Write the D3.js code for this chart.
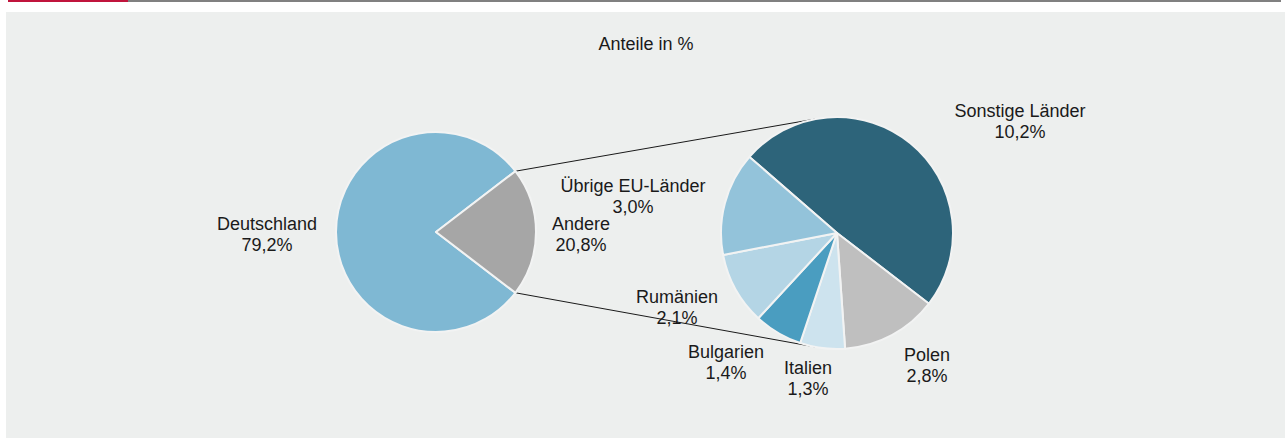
<!DOCTYPE html>
<html>
<head>
<meta charset="utf-8">
<script src="https://cdn.jsdelivr.net/npm/d3@7"></script>
<style>
  body { margin: 0; background: #fff; }
  svg text { font-family: "Liberation Sans", Arial, sans-serif; font-size: 18px; fill: #1a1a1a; }
</style>
</head>
<body>
<div id="chart"></div>
<script>
// main pie
const mainLabels = ["Deutschland", "Andere"];
const mainValues = [79.2, 20.8];
const mainColors = ["#7fb8d3", "#a6a6a6"];

// breakdown of "Andere"
const detailLabels = ["Sonstige Länder", "Polen", "Italien", "Bulgarien", "Rumänien", "Übrige EU-Länder"];
const detailValues = [10.2, 2.8, 1.3, 1.4, 2.1, 3.0];
const detailColors = ["#2d647a", "#bfbfbf", "#cde3ee", "#4a9dc0", "#b4d5e5", "#93c3da"];

const title = "Anteile in %";

const width = 1285, height = 439;
const fmt = v => d3.format(".1f")(v).replace(".", ",") + "%";

const svg = d3.select("#chart").append("svg")
    .attr("width", width)
    .attr("height", height);

// top rule + panel
svg.append("rect").attr("x", 8).attr("y", 0).attr("width", 1273).attr("height", 2).attr("fill", "#808080");
svg.append("rect").attr("x", 8).attr("y", 0).attr("width", 120).attr("height", 2).attr("fill", "#c0143c");
svg.append("rect").attr("x", 6).attr("y", 12).attr("width", width - 6).attr("height", 426).attr("fill", "#edefee");

svg.append("text")
    .attr("x", 646).attr("y", 50)
    .attr("text-anchor", "middle")
    .text(title);

const c1 = {x: 436, y: 232, r: 100};
const c2 = {x: 837, y: 233, r: 116};

// main pie, "Andere" centred on the right
const andereShare = mainValues[1] / d3.sum(mainValues);
const start1 = Math.PI / 2 + andereShare * Math.PI;
const pie1 = d3.pie().sort(null).startAngle(start1).endAngle(start1 + 2 * Math.PI);
const arcs1 = pie1(mainValues);
const arc1 = d3.arc().innerRadius(0).outerRadius(c1.r);

const pie2 = d3.pie().sort(null)
    .startAngle(-49 * Math.PI / 180)
    .endAngle(-49 * Math.PI / 180 + 2 * Math.PI);
const arcs2 = pie2(detailValues);
const arc2 = d3.arc().innerRadius(0).outerRadius(c2.r);

// connector lines: from the edges of "Andere" tangent to the second pie
const andere = arcs1[1];
[andere.startAngle, andere.endAngle].forEach((a, i) => {
    const px = c1.x + c1.r * Math.sin(a);
    const py = c1.y - c1.r * Math.cos(a);
    const dx = c2.x - px, dy = c2.y - py;
    const d = Math.hypot(dx, dy);
    const theta = Math.atan2(dy, dx);
    const alpha = Math.asin(c2.r / d);
    const L = Math.sqrt(d * d - c2.r * c2.r);
    const t = i === 0 ? theta - alpha : theta + alpha;
    svg.append("line")
        .attr("x1", px).attr("y1", py)
        .attr("x2", px + L * Math.cos(t)).attr("y2", py + L * Math.sin(t))
        .attr("stroke", "#1a1a1a")
        .attr("stroke-width", 1);
});

svg.append("g")
    .attr("transform", `translate(${c1.x},${c1.y})`)
    .selectAll("path")
    .data(arcs1)
    .enter()
    .append("path")
    .attr("d", arc1)
    .attr("fill", (d, i) => mainColors[i])
    .attr("stroke", "#f2f3f3")
    .attr("stroke-width", 2)
    .attr("stroke-linejoin", "round");

svg.append("g")
    .attr("transform", `translate(${c2.x},${c2.y})`)
    .selectAll("path")
    .data(arcs2)
    .enter()
    .append("path")
    .attr("d", arc2)
    .attr("fill", (d, i) => detailColors[i])
    .attr("stroke", "#f2f3f3")
    .attr("stroke-width", 2)
    .attr("stroke-linejoin", "round");

// label anchors (centre x, first baseline y)
const mainLabelPos = [[267, 230], [581, 230]];
const detailLabelPos = [[1020, 117], [927, 361], [808, 374], [726, 358], [677, 303], [633, 192]];

function addLabel(name, value, pos) {
    const t = svg.append("text")
        .attr("x", pos[0]).attr("y", pos[1])
        .attr("text-anchor", "middle");
    t.append("tspan").attr("x", pos[0]).text(name);
    t.append("tspan").attr("x", pos[0]).attr("dy", 21).text(fmt(value));
}

mainLabels.forEach((l, i) => addLabel(l, mainValues[i], mainLabelPos[i]));
detailLabels.forEach((l, i) => addLabel(l, detailValues[i], detailLabelPos[i]));
</script>
</body>
</html>
